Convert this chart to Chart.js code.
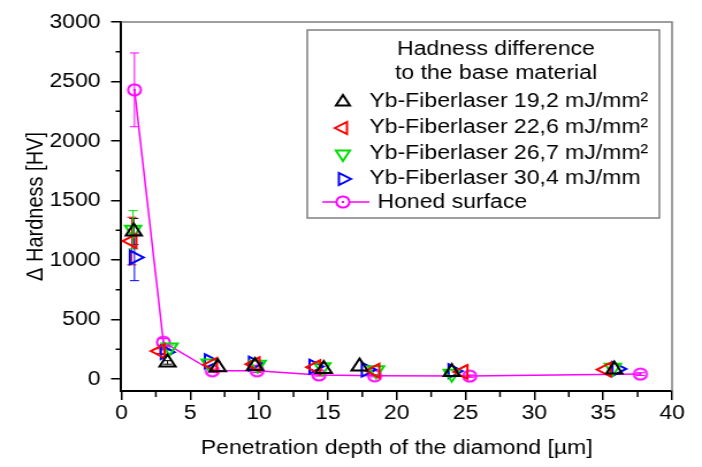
<!DOCTYPE html>
<html>
<head>
<meta charset="utf-8">
<script src="https://cdn.jsdelivr.net/npm/chart.js@4.4.1/dist/chart.umd.min.js"></script>
<style>
  body { margin: 0; background: #fff; }
  #wrap { width: 702px; height: 467px; overflow: hidden; }
  /* the original picture is stretched sideways, so is this one */
  #c { transform: scaleX(1.1508); transform-origin: 0 0; }
</style>
</head>
<body>
<div id="wrap"><canvas id="c" width="610" height="467"></canvas></div>
<script>
// ---- data ----
var legendTitle = ["Hadness difference", "to the base material"];
var seriesNames = [
	"Yb-Fiberlaser 19,2 mJ/mm\u00B2",
	"Yb-Fiberlaser 22,6 mJ/mm\u00B2",
	"Yb-Fiberlaser 26,7 mJ/mm\u00B2",
	"Yb-Fiberlaser 30,4 mJ/mm",
	"Honed surface"
];

var x192 = [0.9, 3.35, 7.0, 9.7, 14.7, 17.3, 24.0, 35.8];
var y192 = [1240, 140, 100, 110, 85, 105, 60, 80];
var e192 = [110, 15, 0, 0, 0, 0, 0, 0];

var x226 = [0.75, 2.8, 6.6, 9.7, 14.1, 18.4, 24.8, 35.2];
var y226 = [1160, 235, 120, 125, 100, 70, 60, 80];
var e226 = [200, 20, 0, 0, 0, 0, 0, 0];

var x267 = [0.85, 3.5, 6.4, 9.9, 14.6, 18.5, 24.0, 35.7];
var y267 = [1255, 265, 130, 120, 100, 75, 45, 95];
var e267 = [160, 20, 0, 0, 0, 0, 0, 0];

var x304 = [0.95, 3.2, 6.4, 9.6, 14.0, 17.8, 24.1, 36.0];
var y304 = [1022, 226, 150, 130, 105, 80, 67, 85];
var e304 = [195, 20, 0, 0, 0, 0, 0, 0];

var xHoned = [0.95, 3.05, 6.6, 9.85, 14.35, 18.4, 25.3, 37.7];
var yHoned = [2430, 310, 70, 70, 35, 28, 25, 42];
var eHoned = [310, 30, 15, 15, 10, 10, 10, 12];

var xTickValues = [0, 5, 10, 15, 20, 25, 30, 35, 40];
var yTickValues = [0, 500, 1000, 1500, 2000, 2500, 3000];
var xMin = 0, xMax = 40, xMinorStep = 2.5;
var yMin = -100, yMax = 3000, yMinorStep = 250;
var xTitle = "Penetration depth of the diamond [\u00B5m]";
var yTitle = "\u0394 Hardness [HV]";

function pts(xs, ys) {
	var out = [];
	for (var i = 0; i < xs.length; i++) out.push({ x: xs[i], y: ys[i] });
	return out;
}

// circle with a dot for the honed surface
function ringDot(color) {
	var c = document.createElement("canvas");
	c.width = 16; c.height = 16;
	var g = c.getContext("2d");
	g.strokeStyle = color; g.lineWidth = 2;
	g.beginPath(); g.arc(8, 8, 5.6, 0, Math.PI * 2); g.stroke();
	g.fillStyle = color; g.fillRect(7, 7, 2, 2);
	return c;
}
var honedMark = ringDot("#ff00ff");

function drawTri(ctx, x, y, r, rot) {
	var rad = rot * Math.PI / 180;
	ctx.beginPath();
	for (var k = 0; k < 3; k++) {
		var a = rad + k * 2 * Math.PI / 3;
		var px = x + Math.sin(a) * r, py = y - Math.cos(a) * r;
		if (k == 0) ctx.moveTo(px, py); else ctx.lineTo(px, py);
	}
	ctx.closePath();
	ctx.stroke();
}

// gray frame on top / right and the short minor ticks
var framePlugin = {
	id: "frame",
	beforeDatasetsDraw: function(chart) {
		var ctx = chart.ctx, a = chart.chartArea, sx = chart.scales.x, sy = chart.scales.y;
		ctx.save();
		ctx.strokeStyle = "#808080";
		ctx.lineWidth = 1.5;
		ctx.beginPath();
		ctx.moveTo(a.left, a.top); ctx.lineTo(a.right, a.top); ctx.lineTo(a.right, a.bottom);
		ctx.stroke();
		ctx.strokeStyle = "#000";
		ctx.lineWidth = 1.5;
		ctx.beginPath();
		for (var v = xMin + xMinorStep; v < xMax; v += 2 * xMinorStep) {
			var px = sx.getPixelForValue(v);
			ctx.moveTo(px, a.bottom); ctx.lineTo(px, a.bottom + 6);
		}
		for (var w = yMinorStep; w < yMax; w += 2 * yMinorStep) {
			var py = sy.getPixelForValue(w);
			ctx.moveTo(a.left, py); ctx.lineTo(a.left - 5, py);
		}
		ctx.stroke();
		ctx.restore();
	}
};

// vertical error bars
var errorPlugin = {
	id: "errbars",
	beforeDatasetsDraw: function(chart) {
		var ctx = chart.ctx, sx = chart.scales.x, sy = chart.scales.y;
		ctx.save();
		ctx.lineWidth = 1;
		chart.data.datasets.forEach(function(ds) {
			if (!ds.errors) return;
			ctx.strokeStyle = ds.borderColor;
			ds.data.forEach(function(p, j) {
				var e = ds.errors[j];
				if (!e) return;
				var px = sx.getPixelForValue(p.x);
				var t = sy.getPixelForValue(p.y + e), b = sy.getPixelForValue(p.y - e);
				ctx.beginPath();
				ctx.moveTo(px, t); ctx.lineTo(px, b);
				ctx.moveTo(px - 4, t); ctx.lineTo(px + 4, t);
				ctx.moveTo(px - 4, b); ctx.lineTo(px + 4, b);
				ctx.stroke();
			});
		});
		ctx.restore();
	}
};

// boxed legend inside the plot
var legendPlugin = {
	id: "boxlegend",
	afterDraw: function(chart) {
		var ctx = chart.ctx;
		var L = 267, R = 573, T = 30, B = 218;
		ctx.save();
		ctx.strokeStyle = "#808080";
		ctx.lineWidth = 1.5;
		ctx.strokeRect(L, T, R - L, B - T);
		ctx.fillStyle = "#000";
		ctx.font = "20px 'Liberation Sans', Arial, sans-serif";
		ctx.textBaseline = "middle";
		ctx.textAlign = "center";
		ctx.fillText(legendTitle[0], 431, 49);
		ctx.fillText(legendTitle[1], 431, 73);
		ctx.textAlign = "left";
		var rows = [101, 127, 153, 178, 202];
		chart.data.datasets.forEach(function(ds, i) {
			var yy = rows[i];
			if (ds.isLine) {
				ctx.strokeStyle = ds.borderColor;
				ctx.lineWidth = 1.5;
				ctx.beginPath(); ctx.moveTo(280, yy); ctx.lineTo(321, yy); ctx.stroke();
				ctx.fillStyle = "#fff";
				ctx.fillRect(298 - 6, yy - 6, 12, 12);
				ctx.drawImage(honedMark, 298 - 8, yy - 8);
				ctx.fillStyle = "#000";
				ctx.fillText(ds.label, 328, yy);
			} else {
				ctx.strokeStyle = ds.borderColor;
				ctx.lineWidth = 2;
				drawTri(ctx, 298, yy + 1, 7, ds.pointRotation);
				ctx.fillText(ds.label, 321, yy);
			}
		});
		ctx.restore();
	}
};

Chart.defaults.font.family = "'Liberation Sans', Arial, sans-serif";
Chart.defaults.font.size = 20;
Chart.defaults.color = "#000";

function triSet(label, xs, ys, es, color, rot) {
	return {
		label: label,
		data: pts(xs, ys),
		errors: es,
		borderColor: color,
		backgroundColor: "rgba(0,0,0,0)",
		pointStyle: "triangle",
		pointRotation: rot,
		pointRadius: 8,
		pointHoverRadius: 8,
		pointBorderWidth: 2,
		showLine: false
	};
}

function fixedTicks(values) {
	return function(scale) {
		scale.ticks = values.map(function(v) { return { value: v }; });
	};
}

var ctx = document.getElementById("c");
var chart = new Chart(ctx, {
	type: "scatter",
	data: {
		datasets: [
			triSet(seriesNames[0], x192, y192, e192, "#000000", 0),
			triSet(seriesNames[1], x226, y226, e226, "#ff0000", 270),
			triSet(seriesNames[2], x267, y267, e267, "#00dd00", 180),
			triSet(seriesNames[3], x304, y304, e304, "#0000ff", 90),
			{
				label: seriesNames[4],
				data: pts(xHoned, yHoned),
				errors: eHoned,
				isLine: true,
				borderColor: "#ff00ff",
				backgroundColor: "#ff00ff",
				borderWidth: 1.5,
				pointStyle: honedMark,
				pointRadius: 7,
				showLine: true,
				tension: 0
			}
		]
	},
	options: {
		responsive: false,
		animation: false,
		events: [],
		layout: { padding: { left: 10, right: 26, top: 22, bottom: 7 } },
		plugins: {
			legend: { display: false },
			tooltip: { enabled: false }
		},
		scales: {
			x: {
				type: "linear",
				min: xMin, max: xMax,
				afterBuildTicks: fixedTicks(xTickValues),
				ticks: { padding: 1, color: "#000", callback: function(v) { return String(v); } },
				grid: { drawOnChartArea: false, drawTicks: true, tickLength: 9, color: "#000", tickColor: "#000", lineWidth: 1.5 },
				border: { display: true, color: "#000", width: 2 },
				title: { display: true, text: xTitle, padding: { top: 10, bottom: 0 } }
			},
			y: {
				type: "linear",
				min: yMin, max: yMax,
				afterBuildTicks: fixedTicks(yTickValues),
				ticks: { padding: 9, color: "#000", callback: function(v) { return String(v); } },
				grid: { drawOnChartArea: false, drawTicks: true, tickLength: 9, color: "#000", tickColor: "#000", lineWidth: 1.5 },
				border: { display: true, color: "#000", width: 2 },
				title: { display: true, text: yTitle, padding: { top: 9, bottom: -9 } }
			}
		}
	},
	plugins: [framePlugin, errorPlugin, legendPlugin]
});
</script>
</body>
</html>
